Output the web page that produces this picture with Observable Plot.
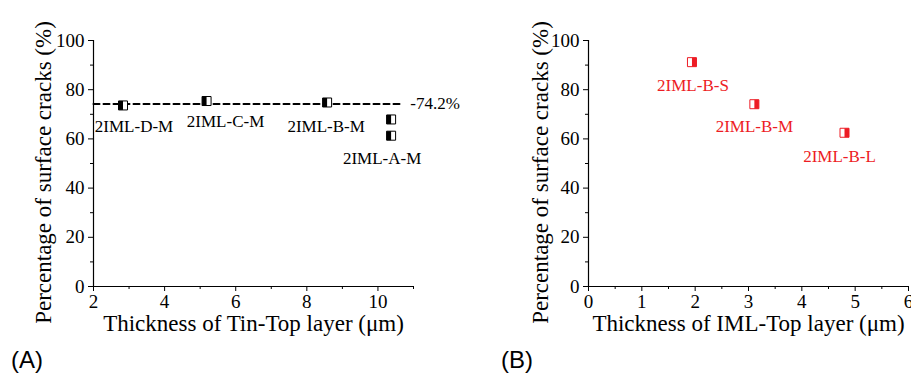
<!DOCTYPE html>
<html>
<head>
<meta charset="utf-8">
<script src="https://cdn.jsdelivr.net/npm/d3@7"></script>
<script src="https://cdn.jsdelivr.net/npm/@observablehq/plot@0.6"></script>
<style>
  html, body { margin: 0; padding: 0; background: #fff; overflow: hidden; }
  #figure { position: relative; width: 911px; height: 377px; }
  .panel { position: absolute; top: 0; }
  .tag { position: absolute; font-family: "Liberation Sans", Arial, sans-serif; font-size: 24px; color: #000; line-height: 1; }
</style>
</head>
<body>
<div id="figure">
  <div class="panel" id="panelA" style="left:0px"></div>
  <div class="panel" id="panelB" style="left:500px"></div>
  <div class="tag" style="left:11px;top:348px">(A)</div>
  <div class="tag" style="left:501px;top:348px">(B)</div>
</div>
<script>
// ---- data ----------------------------------------------------------------
// (A) Tin-Top layer series
const tinTopSamples   = ["2IML-D-M", "2IML-C-M", "2IML-B-M", "2IML-A-M", "2IML-A-M"];
const tinTopThickness = [2.83, 5.18, 8.57, 10.37, 10.37];
const tinTopCracks    = [73.6, 75.4, 74.8, 67.9, 61.3];
const tinTopAverage   = 74.2;

// (B) IML-Top layer series
const imlTopSamples   = ["2IML-B-S", "2IML-B-M", "2IML-B-L"];
const imlTopThickness = [1.94, 3.11, 4.80];
const imlTopCracks    = [91.2, 74.1, 62.5];

// axis ticks
const percentTicks      = [0, 20, 40, 60, 80, 100];
const percentMinorTicks = [10, 30, 50, 70, 90];
const tinTopTicks       = [2, 4, 6, 8, 10];
const tinTopMinorTicks  = [3, 5, 7, 9, 11];
const imlTopTicks       = [0, 1, 2, 3, 4, 5, 6];
const imlTopMinorTicks  = [0.5, 1.5, 2.5, 3.5, 4.5, 5.5];

const yTitle = "Percentage of surface cracks (%)";
const RED = "#ed1c24";

// ---- half-filled square markers -------------------------------------------
const squareSymbol = {draw(ctx, size) { const s = Math.sqrt(size) / 2; ctx.rect(-s, -s, 2 * s, 2 * s); }};
const leftHalf  = {draw(ctx, size) { const s = Math.sqrt(size) / 2; ctx.rect(-s, -s, s, 2 * s); }};
const rightHalf = {draw(ctx, size) { const s = Math.sqrt(size) / 2; ctx.rect(0, -s, s, 2 * s); }};
const markerR = 9 / Math.sqrt(Math.PI); // 9px square side

function toRows(names, xs, ys) {
  return names.map((name, i) => ({name, x: xs[i], y: ys[i]}));
}

const plainFormat = d => String(d);

function frameMarks({xTicks, xMinor, xMin, xTitle, titleDx}) {
  return [
    Plot.axisY({ticks: percentTicks, tickSize: 5, tickPadding: 4, fontSize: 19,
                tickFormat: plainFormat, label: null}),
    Plot.axisY({ticks: percentMinorTicks, tickSize: 3, fill: "none", label: null}),
    Plot.axisX({ticks: xTicks, tickSize: 5, tickPadding: 3, fontSize: 19,
                tickFormat: plainFormat, label: null}),
    Plot.axisX({ticks: xMinor, tickSize: 3, fill: "none", label: null}),
    Plot.ruleX([xMin], {stroke: "#000", strokeWidth: 1.2}),
    Plot.ruleY([0], {stroke: "#000", strokeWidth: 1.2}),
    Plot.text([yTitle], {frameAnchor: "left", textAnchor: "middle", lineAnchor: "middle",
                         rotate: -90, dx: titleDx, dy: 9, fontSize: 23}),
    Plot.text([xTitle], {frameAnchor: "bottom", textAnchor: "middle", lineAnchor: "middle",
                         dy: 37, fontSize: 23})
  ];
}

function markerMarks(rows, color, filledHalf) {
  return [
    Plot.dot(rows, {x: "x", y: "y", symbol: squareSymbol, r: markerR, fill: "#fff", stroke: color, strokeWidth: 1}),
    Plot.dot(rows, {x: "x", y: "y", symbol: filledHalf, r: markerR, fill: color, stroke: "none"})
  ];
}

function labelMarks(rows, color, offsets) {
  return rows.map((d, i) =>
    Plot.text([d], {x: "x", y: "y", text: "name", fill: color, fontSize: 17,
                    dx: offsets[i][0], dy: offsets[i][1]}));
}

const baseStyle = {fontFamily: "'Liberation Serif', 'Times New Roman', serif", fontSize: "18px",
                   color: "#000", background: "#fff", overflow: "visible", maxWidth: "none"};

// ---- panel A ----------------------------------------------------------------
const tinRows = toRows(tinTopSamples, tinTopThickness, tinTopCracks);
const tinLabelled = [tinRows[0], tinRows[1], tinRows[2], tinRows[4]];

const plotA = Plot.plot({
  width: 455, height: 377,
  marginLeft: 93, marginRight: 42, marginTop: 40, marginBottom: 91,
  style: baseStyle,
  x: {domain: [2, 11]},
  y: {domain: [0, 100]},
  marks: [
    ...frameMarks({xTicks: tinTopTicks, xMinor: tinTopMinorTicks, xMin: 2, titleDx: -50,
                   xTitle: "Thickness of Tin-Top layer (\u03bcm)"}),
    Plot.lineY([2, 10.63], {x: d => d, y: () => tinTopAverage, stroke: "#000",
                            strokeWidth: 2, strokeDasharray: "6,4"}),
    Plot.text([tinTopAverage], {x: 10.63, y: d => d, text: d => `-${d}%`, textAnchor: "start",
                                dx: 10, fontSize: 17}),
    ...markerMarks(tinRows, "#000", leftHalf),
    ...labelMarks(tinLabelled, "#000", [[11, 21], [19, 21], [-1, 24], [-9, 23]])
  ]
});
document.getElementById("panelA").append(plotA);

// ---- panel B ----------------------------------------------------------------
const imlRows = toRows(imlTopSamples, imlTopThickness, imlTopCracks);

const plotB = Plot.plot({
  width: 411, height: 377,
  marginLeft: 88, marginRight: 3, marginTop: 40, marginBottom: 91,
  style: baseStyle,
  x: {domain: [0, 6]},
  y: {domain: [0, 100]},
  marks: [
    ...frameMarks({xTicks: imlTopTicks, xMinor: imlTopMinorTicks, xMin: 0, titleDx: -48,
                   xTitle: "Thickness of IML-Top layer (\u03bcm)"}),
    ...markerMarks(imlRows, RED, rightHalf),
    ...labelMarks(imlRows, RED, [[1, 23], [0, 22], [-5, 24]])
  ]
});
document.getElementById("panelB").append(plotB);
</script>
</body>
</html>
